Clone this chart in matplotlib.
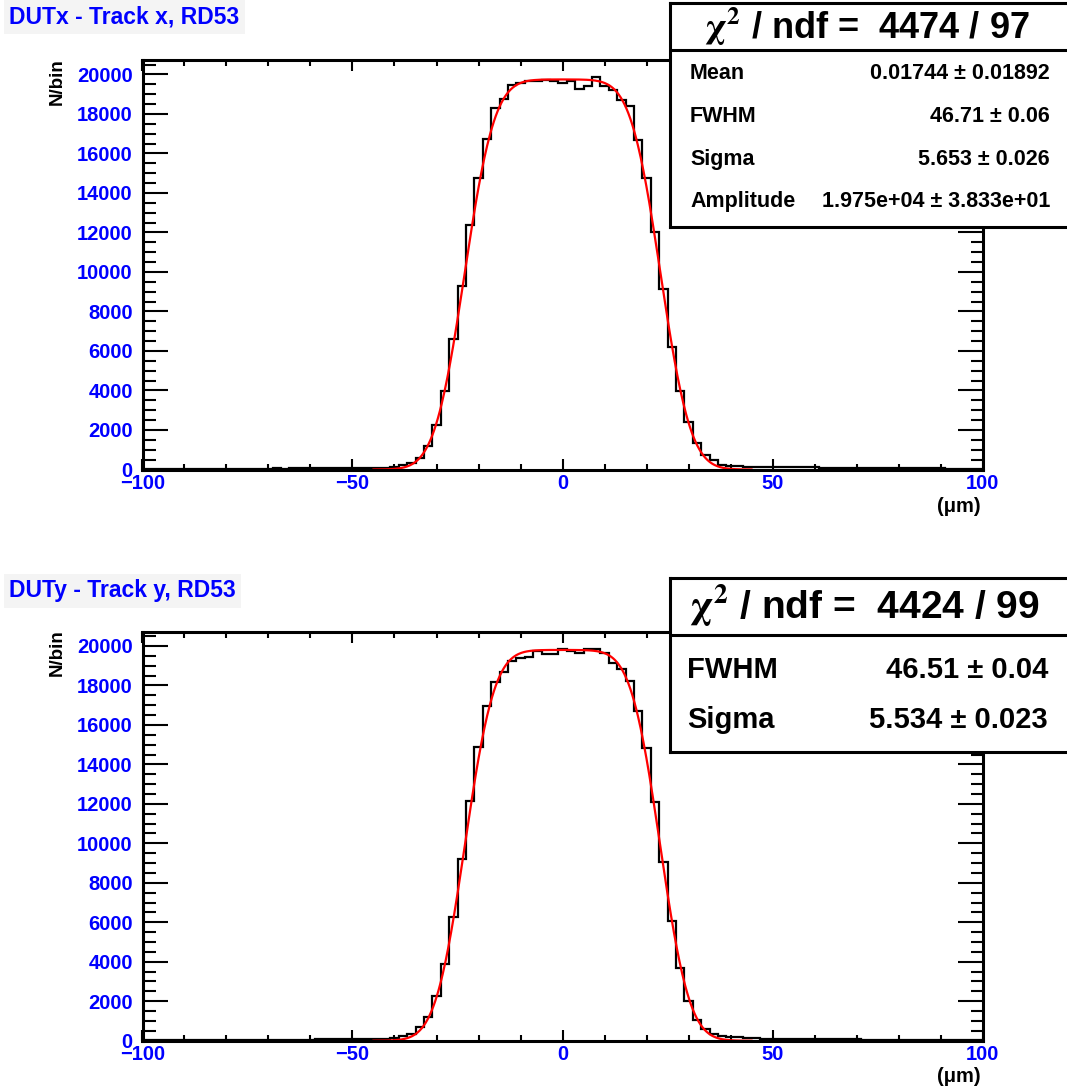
import math
import numpy as np
import matplotlib
matplotlib.use("Agg")
import matplotlib.pyplot as plt
from matplotlib.ticker import MultipleLocator
from matplotlib.transforms import ScaledTranslation

plt.rcParams["font.family"] = ["Liberation Sans", "DejaVu Sans"]
plt.rcParams["font.weight"] = "bold"
plt.rcParams["mathtext.fontset"] = "stix"

# 2 um bins, centred on even values
bin_centers = np.arange(-100, 101, 2)
bin_edges = np.arange(-101, 102, 2)

# DUTx - Track x (counts per bin)
counts_x = [
    20, 25, 20, 30, 25, 30, 30, 35, 30, 35,             # -100 .. -82
    40, 35, 40, 45, 40, 50, 55, 50, 60, 55,             # -80 .. -62
    65, 60, 70, 65, 75, 70, 80, 85, 90, 100,            # -60 .. -42
    110, 228, 345, 565, 1188, 2250, 3985, 6583, 9313, 12381,   # -40 .. -22
    14757, 16747, 18314, 18769, 19443, 19550, 19663, 19663, 19700, 19690,  # -20 .. -2
    19560,                                               # 0
    19690, 19270, 19440, 19860, 19440, 19190, 18720, 18380, 16700, 14770,  # 2 .. 20
    12026, 9162, 6212, 3987, 2385, 1357, 733, 480, 228, 177,   # 22 .. 40
    160, 150, 145, 140, 130, 125, 120, 115, 110, 105,   # 42 .. 60
    100, 95, 90, 90, 85, 80, 80, 75, 70, 70,            # 62 .. 80
    65, 60, 60, 55, 55, 50, 50, 45, 45, 40,             # 82 .. 100
]

# DUTy - Track y
counts_y = [
    20, 20, 25, 25, 30, 25, 30, 35, 30, 35,
    35, 40, 40, 45, 45, 50, 50, 55, 55, 60,
    60, 65, 65, 70, 75, 75, 80, 85, 95, 105,
    120, 236, 340, 680, 1217, 2265, 3873, 6252, 9192, 12131,
    14867, 16959, 18160, 18698, 19255, 19375, 19458, 19761, 19579, 19579,
    19848,
    19761, 19629, 19848, 19848, 19629, 19153, 18819, 18241, 16706, 14846,
    12100, 9040, 6070, 3669, 2011, 1049, 578, 340, 253, 203,
    203, 120, 115, 110, 105, 100, 95, 90, 85, 80,
    80, 75, 70, 70, 65, 60, 60, 55, 55, 50,
    50, 45, 45, 40, 40, 40, 35, 35, 30, 30,
]

# fit results (box convolved with gaussian)
fit_x = {"amp": 1.975e4, "mean": 0.01744, "fwhm": 46.71, "sigma": 5.653}
fit_y = {"amp": 1.98e4, "mean": 0.0, "fwhm": 46.51, "sigma": 5.534}
fit_range = (-45, 45)

titles = ["DUTx - Track x, RD53", "DUTy - Track y, RD53"]
chi2_text = ["4474 / 97", "4424 / 99"]
stats_x = [("Mean", "0.01744 \u00b1 0.01892"), ("FWHM", "46.71 \u00b1 0.06"),
           ("Sigma", "5.653 \u00b1 0.026"), ("Amplitude", "1.975e+04 \u00b1 3.833e+01")]
stats_y = [("FWHM", "46.51 \u00b1 0.04"), ("Sigma", "5.534 \u00b1 0.023")]

BLUE = "#0000ff"
W, H = 1067, 1089


def box_gauss(x, p):
    s = p["sigma"] * math.sqrt(2)
    lo = p["mean"] - p["fwhm"] / 2
    hi = p["mean"] + p["fwhm"] / 2
    return [p["amp"] * 0.5 * (math.erf((xi - lo) / s) - math.erf((xi - hi) / s)) for xi in x]


def px(x0, y0, x1, y1):
    # pixel box -> figure fraction rect
    return [x0 / W, 1 - y1 / H, (x1 - x0) / W, (y1 - y0) / H]


fig = plt.figure(figsize=(W / 100, H / 100), dpi=100)

# (counts, fit, axes box, title y, x-title y) in pixels from the top
panels = [
    (counts_x, fit_x, (142.5, 60, 982.5, 469.5), 17, 506),
    (counts_y, fit_y, (142.5, 631.5, 982.5, 1040.7), 591, 1077),
]

for i, (counts, fit, box, title_y, xlab_y) in enumerate(panels):
    ax = fig.add_axes(px(*box))
    ax.stairs(counts, bin_edges, color="black", lw=1.6)
    xf = np.linspace(fit_range[0], fit_range[1], 400)
    ax.plot(xf, box_gauss(xf, fit), color="red", lw=1.6)
    ax.set_xlim(-100, 100)
    ax.set_ylim(0, 20734)
    ax.xaxis.set_major_locator(MultipleLocator(50))
    ax.xaxis.set_minor_locator(MultipleLocator(10))
    ax.yaxis.set_major_locator(MultipleLocator(2000))
    ax.yaxis.set_minor_locator(MultipleLocator(500))
    ax.tick_params(which="both", direction="in", top=True, right=True, width=1.5,
                   colors="black", labelcolor=BLUE, labelsize=14.5)
    ax.tick_params(axis="x", which="major", length=8, pad=3)
    ax.tick_params(axis="x", which="minor", length=4.3)
    ax.tick_params(axis="y", which="major", length=18, pad=7)
    ax.tick_params(axis="y", which="minor", length=9)
    for lab in ax.get_xticklabels() + ax.get_yticklabels():
        lab.set_fontweight("bold")
    # lift the "0" on the y axis a little so it clears the "-100" below it
    zero_lab = ax.yaxis.get_major_ticks()[0].label1
    zero_lab.set_transform(zero_lab.get_transform()
                           + ScaledTranslation(0, 4 / 72, fig.dpi_scale_trans))
    for sp in ax.spines.values():
        sp.set_linewidth(2.2)

    fig.text(9 / W, 1 - title_y / H, titles[i], color=BLUE, fontsize=16.5,
             fontweight="bold", va="center", ha="left",
             bbox=dict(facecolor="#f4f4f4", edgecolor="none", pad=4))
    fig.text(57 / W, 1 - (box[1] - 2) / H, "N/bin", rotation=90, ha="center",
             va="top", fontsize=13.5, fontweight="bold", color="black")
    fig.text(959 / W, 1 - xlab_y / H, "(\u03bcm)", ha="center", va="center",
             fontsize=14.5, fontweight="bold", color="black")

# stat boxes
boxes = [
    (px(670, 3, 1072, 227), (227 - 50) / 224, 0.895, 0.49, chi2_text[0], 26,
     stats_x, [0.685, 0.495, 0.302, 0.113], 15.5, 0.05, 0.945),
    (px(670, 578, 1072, 752), (752 - 635) / 174, 0.845, 0.483, chi2_text[1], 28,
     stats_y, [0.471, 0.184], 21, 0.0425, 0.94),
]
for rect, hline, hy, hx, chi, hsize, stats, rows_y, rsize, lx, rx in boxes:
    bx = fig.add_axes(rect)
    bx.set_xlim(0, 1)
    bx.set_ylim(0, 1)
    bx.set_xticks([])
    bx.set_yticks([])
    bx.set_facecolor("white")
    for sp in bx.spines.values():
        sp.set_linewidth(2.2)
    bx.axhline(hline, color="black", lw=2.2)
    bx.text(hx, hy, r"$\mathrm{\chi}^2$ / ndf =  " + chi, ha="center", va="center",
            fontsize=hsize, fontweight="bold")
    for (name, val), yy in zip(stats, rows_y):
        bx.text(lx, yy, name, ha="left", va="center", fontsize=rsize, fontweight="bold")
        bx.text(rx, yy, val, ha="right", va="center", fontsize=rsize, fontweight="bold")

fig.savefig("out.png", dpi=100, facecolor="white")
